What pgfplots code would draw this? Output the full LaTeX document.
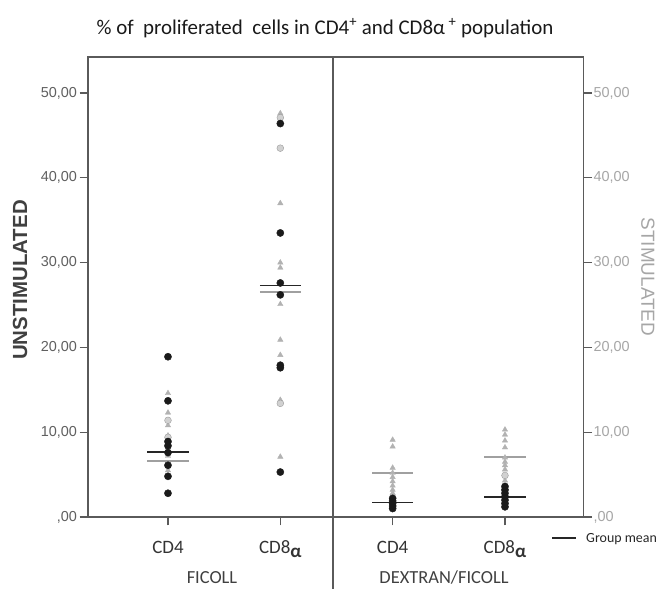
\documentclass[border=0pt]{standalone}
\usepackage{pgfplots}
\pgfplotsset{compat=1.18}
\usepackage{fontspec}
\setmainfont{Carlito}
\newfontfamily\arial{Liberation Sans}
\definecolor{axisgray}{HTML}{5A5A5A}
\definecolor{lefttick}{HTML}{606060}
\definecolor{righttick}{HTML}{A6A6A6}
\definecolor{ptgray}{HTML}{B2B2B2}
\definecolor{ptgrayc}{HTML}{9C9C9C}
\definecolor{meangray}{HTML}{A0A0A0}
\definecolor{dotblack}{HTML}{1A1A1A}

\begin{document}
\begin{tikzpicture}[x=1bp,y=1bp]
\path[use as bounding box] (0,0) rectangle (659,589);
\begin{axis}[
  at={(88bp,72bp)}, anchor=south west,
  scale only axis, width=495.5bp, height=460bp,
  xmin=-0.712, xmax=3.699, ymin=0, ymax=54.25,
  clip=false,
  axis line style={axisgray, line width=1.3bp},
  tick style={axisgray, line width=1.1bp},
  tick align=outside, major tick length=8.5bp,
  xtick pos=bottom, ytick pos=left,
  xtick={0,1,2,3},
  xticklabels={CD4, CD8\raisebox{-0.4ex}{\textbf{α}}, CD4, CD8\raisebox{-0.4ex}{\textbf{α}}},
  xticklabel style={font=\fontsize{19}{19}\selectfont, text=black!80, yshift=-12bp},
  ytick={0,10,20,30,40,50},
  yticklabels={{,00},{10,00},{20,00},{30,00},{40,00},{50,00}},
  yticklabel style={font=\arial\fontsize{14.5}{14.5}\selectfont, text=lefttick, xshift=1bp},
]
% stimulated (gray triangles)
\addplot[only marks, mark=triangle*, mark size=3.1bp, color=ptgray] coordinates {
 (0,14.6) (0,12.3) (0,9.6) (0,7.2) (0,5.5) (0,10.8)
 (1,47.6) (1,37.0) (1,30.0) (1,29.4) (1,25.1) (1,20.9) (1,19.1) (1,7.1) (1,13.8)
 (2,9.1) (2,8.3) (2,5.8) (2,5.2) (2,4.7) (2,4.2) (2,3.7) (2,3.2) (2,2.8)
 (3,10.3) (3,9.7) (3,9.0) (3,8.2) (3,7.0) (3,6.5) (3,6.1) (3,5.6) (3,4.3)
};
% stimulated (gray circles)
\addplot[only marks, mark=*, mark size=3.4bp, color=ptgrayc, mark options={fill=ptgray!60}] coordinates {
 (0,11.4) (0,9.4)
 (1,47.1) (1,43.5) (1,13.4)
 (3,4.9)
};
% unstimulated (black circles)
\addplot[only marks, mark=*, mark size=3.6bp, color=dotblack] coordinates {
 (0,18.9) (0,13.7) (0,8.9) (0,8.4) (0,7.6) (0,6.1) (0,4.8) (0,2.8)
 (1,46.4) (1,33.5) (1,27.6) (1,26.2) (1,17.9) (1,17.6) (1,5.3)
 (2,2.2) (2,1.9) (2,1.6) (2,1.3) (2,1.0)
 (3,3.6) (3,3.2) (3,2.8) (3,2.4) (3,2.0) (3,1.6) (3,1.2)
};
% group means
\addplot[meangray, line width=1.8bp] coordinates {(-0.183,6.6) (0.183,6.6)};
\addplot[black!85, line width=1.8bp] coordinates {(-0.183,7.7) (0.183,7.7)};
\addplot[meangray, line width=1.8bp] coordinates {(0.817,26.5) (1.183,26.5)};
\addplot[black!85, line width=1.8bp] coordinates {(0.817,27.3) (1.183,27.3)};
\addplot[meangray, line width=1.8bp] coordinates {(1.817,5.2) (2.183,5.2)};
\addplot[black!85, line width=1.8bp] coordinates {(1.817,1.7) (2.183,1.7)};
\addplot[meangray, line width=1.8bp] coordinates {(2.817,7.1) (3.183,7.1)};
\addplot[black!85, line width=1.8bp] coordinates {(2.817,2.4) (3.183,2.4)};
% divider
\draw[axisgray, line width=1.3bp] (axis cs:1.469,54.25) -- (axis cs:1.469,-9);
\end{axis}
\begin{axis}[
  at={(88bp,72bp)}, anchor=south west,
  scale only axis, width=495.5bp, height=460bp,
  xmin=-0.712, xmax=3.699, ymin=0, ymax=54.25,
  hide x axis, axis y line*=right,
  axis line style={axisgray, line width=1.3bp},
  tick style={axisgray, line width=1.1bp},
  tick align=outside, major tick length=8.5bp,
  ytick={0,10,20,30,40,50},
  yticklabels={{,00},{10,00},{20,00},{30,00},{40,00},{50,00}},
  yticklabel style={font=\arial\fontsize{14.5}{14.5}\selectfont, text=righttick, xshift=-2bp},
]
\addplot[draw=none] coordinates {(0,0)};
\end{axis}
\node[font=\fontsize{21}{21}\selectfont, text=black!90] at (325,561) {\% of\ \ proliferated\ \ cells in CD4\textsuperscript{+} and CD8α\,\textsuperscript{+} population};
\node[rotate=90, font=\arial\bfseries\fontsize{20.5}{20.5}\selectfont, text=black!75] at (20,309) {UNSTIMULATED};
\node[rotate=-90, font=\arial\fontsize{19}{19}\selectfont, text=righttick] at (648,312) {STIMULATED};
\node[anchor=base, font=\fontsize{18.5}{18.5}\selectfont, text=black!75] at (212,5.5) {FICOLL};
\node[anchor=base, font=\fontsize{18.5}{18.5}\selectfont, text=black!75] at (444,5.5) {DEXTRAN/FICOLL};
\draw[black!85, line width=1.8bp] (552,51) -- (576,51);
\node[anchor=west, font=\fontsize{14}{14}\selectfont, text=black!85, inner sep=0pt] at (586,50) {Group mean};
\end{tikzpicture}
\end{document}
